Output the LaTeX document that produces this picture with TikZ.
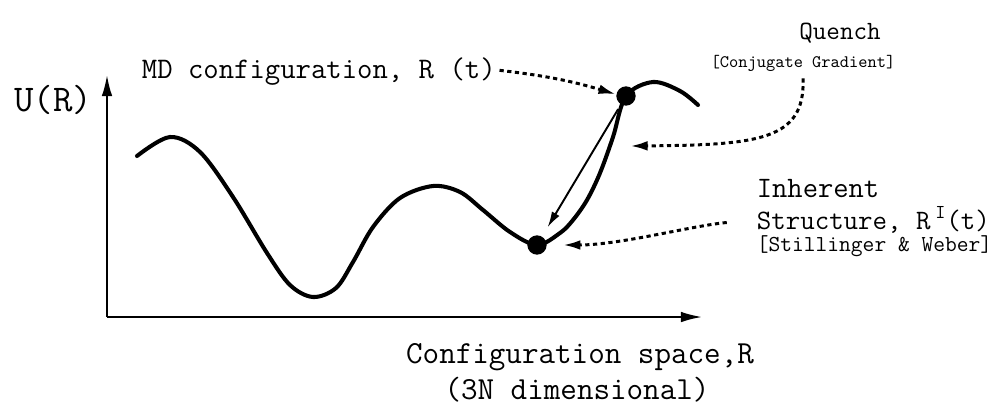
\documentclass[tikz,border=0pt]{standalone}
\usepackage{fontspec}
\usepackage{tikz}
\usetikzlibrary{arrows.meta,calc}
\colorlet{ink}{black}
\newcommand{\fsz}[1]{\ttfamily\fontsize{#1}{#1}\selectfont}
\tikzset{
  >=Latex,
  every node/.style={font=\fsz{17}, text=ink, inner sep=2pt},
  % --- nodes
  lab/.style    = {anchor=west},
  dot/.style    = {circle, fill=ink, inner sep=0pt, minimum size=11pt},
  % --- edges
  ax/.style     = {-{Latex[length=12pt,width=6pt]}, line width=1.1pt, draw=ink},
  pes/.style    = {line width=2.3pt, draw=ink, line cap=round},
  qarrow/.style = {-{Latex[length=9pt,width=5pt]}, line width=1.1pt, draw=ink},
  dotarrow/.style = {-{Latex[length=10pt,width=5.5pt]}, line width=1.7pt, draw=ink,
                   dash pattern=on 2.4pt off 2pt},
}

\begin{document}
\begin{tikzpicture}[x=0.02cm, y=-0.02cm]
  \useasboundingbox (0,0) rectangle (1000,406);

  % axes
  \coordinate (o) at (107,317);
  \coordinate (ytop) at (107,75);
  \coordinate (xend) at (702,317);
  \draw[ax] (o) -- (ytop);
  \draw[ax] (o) -- (xend);

  % labels
  \node[font=\fsz{21.5}] (ulab) at (53,100) {U(R)};
  \node[lab] (mdlab) at (138,72) {MD configuration, R (t)};
  \node[font=\fsz{15}] (quench) at (840,33) {Quench};
  \node[font=\fsz{10}] (cg) at (803,63) {[Conjugate Gradient]};
  \node[lab, font=\fsz{16.9}] (inh) at (753,189) {Inherent};
  \node[lab, font=\fsz{16}] (strl) at (753,220) {Structure, R\,\textsuperscript{I}(t)};
  \node[lab, font=\fsz{13}] (swl) at (753,246) {[Stillinger \& Weber]};
  \node[font=\fsz{18.3}] (xlab) at (580,357) {Configuration space,R};
  \node[font=\fsz{18.3}] (xdim) at (577,390) {(3N dimensional)};

  % configurations on the surface
  \node[dot] (md) at (626,96) {};
  \node[dot] (is) at (537,245) {};

  % potential energy surface
  \draw[pes] plot[smooth, tension=0.55] coordinates {
    (137,156) (170,137) (200,152) (233,197) (267,253) (290,285) (313,297)
    (336,288) (353,262) (373,227) (400,198) (433,186) (460,192) (483,210)
    (510,232) (is) (560,233) (573,220) (587,200) (600,173) (613,137)
    (md) (653,82) (680,91) (698,105)};

  % quench
  \draw[qarrow, shorten <=3pt, shorten >=6pt] (md) -- (is);

  % pointers
  \coordinate (qtip) at (630,146);
  \draw[dotarrow] (mdlab) to[bend left=5] (md);
  \draw[dotarrow, shorten <=2pt] (cg.south) .. controls (805,140) and (760,145) .. (qtip);
  \draw[dotarrow, shorten <=15pt, shorten >=9pt] (strl.west) .. controls (690,226) and (620,245) .. (is);
\end{tikzpicture}
\end{document}
